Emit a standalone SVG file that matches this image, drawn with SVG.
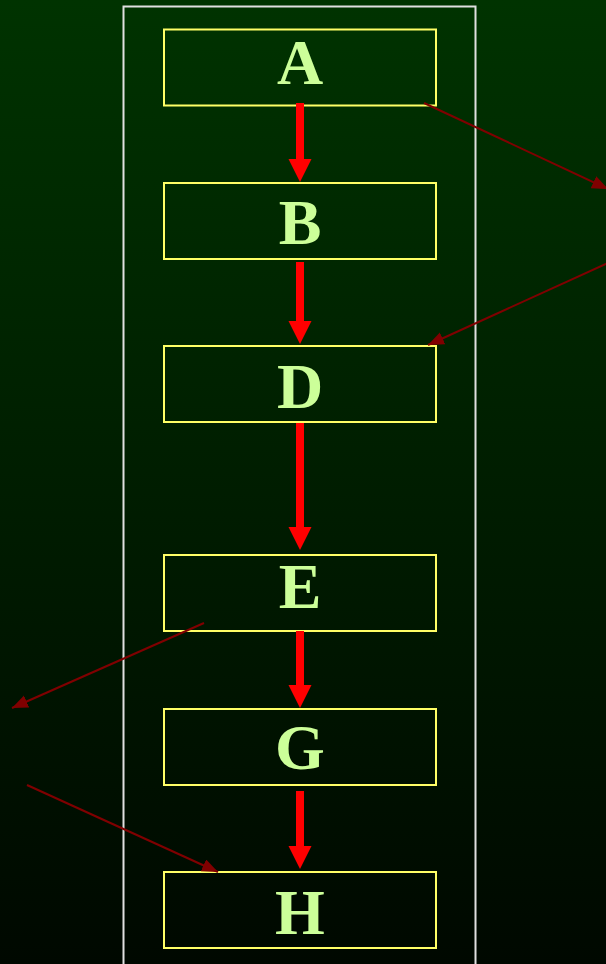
<svg xmlns="http://www.w3.org/2000/svg" width="606" height="964" viewBox="0 0 606 964">
<defs>
<linearGradient id="bg" x1="0" y1="0" x2="0" y2="1">
<stop offset="0" stop-color="#003300"/>
<stop offset="1" stop-color="#000800"/>
</linearGradient>
<marker id="rh" markerUnits="userSpaceOnUse" markerWidth="24" markerHeight="24" refX="0" refY="11.5" orient="auto" viewBox="0 0 24 24">
<path d="M0,0 L23,11.5 L0,23 z" fill="#ff0000"/>
</marker>
<marker id="dh" markerUnits="userSpaceOnUse" markerWidth="17" markerHeight="14" refX="16" refY="6.5" orient="auto" viewBox="0 0 17 14">
<path d="M0,0 L16,6.5 L0,13 z" fill="#800000"/>
</marker>
</defs>
<style>
.box{fill:none;stroke:#ffff66;stroke-width:2}
.lbl{font-family:"Liberation Serif","Times New Roman",serif;font-weight:bold;font-size:64px;fill:#ccff99;text-anchor:middle}
.red{stroke:#ff0000;stroke-width:8;fill:none;marker-end:url(#rh)}
.dark{stroke:#800000;stroke-width:2;fill:none;marker-end:url(#dh)}
</style>
<rect x="0" y="0" width="606" height="964" fill="url(#bg)"/>
<rect id="frame" x="123.5" y="6.5" width="352" height="970" fill="none" stroke="#e0e0e0" stroke-width="2"/>
<g id="A"><rect class="box" x="164" y="29.5" width="272" height="76"/><text class="lbl" x="300" y="84">A</text></g>
<g id="B"><rect class="box" x="164" y="183" width="272" height="76"/><text class="lbl" x="300" y="244">B</text></g>
<g id="D"><rect class="box" x="164" y="346" width="272" height="76"/><text class="lbl" x="300" y="408">D</text></g>
<g id="E"><rect class="box" x="164" y="555" width="272" height="76"/><text class="lbl" x="300" y="608">E</text></g>
<g id="G"><rect class="box" x="164" y="709" width="272" height="76"/><text class="lbl" x="300" y="769">G</text></g>
<g id="H"><rect class="box" x="164" y="872" width="272" height="76"/><text class="lbl" x="300" y="934">H</text></g>
<g id="connectors">
<line class="red" x1="300" y1="103" x2="300" y2="159"/>
<line class="red" x1="300" y1="262" x2="300" y2="321"/>
<line class="red" x1="300" y1="423" x2="300" y2="527"/>
<line class="red" x1="300" y1="631" x2="300" y2="685"/>
<line class="red" x1="300" y1="791" x2="300" y2="846"/>
<line class="dark" x1="424" y1="103" x2="608" y2="189"/>
<line class="dark" x1="610" y1="262" x2="428" y2="345"/>
<line class="dark" x1="204" y1="623" x2="12" y2="708"/>
<line class="dark" x1="27" y1="785" x2="218" y2="872"/>
</g>
</svg>
